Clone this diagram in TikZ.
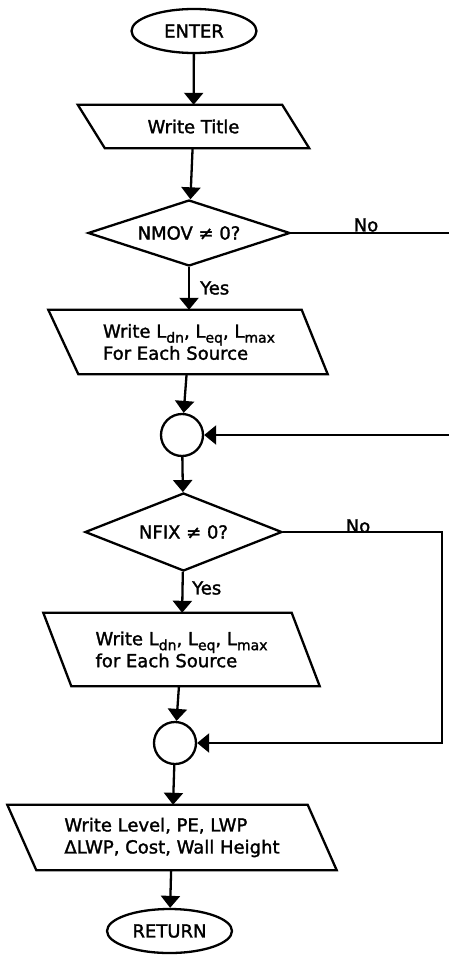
\documentclass[tikz,border=0pt]{standalone}
\usepackage{fontspec}
\setmainfont{DejaVu Sans}[BoldFont=DejaVu Sans, BoldFeatures={FakeBold=1.6}]
\usetikzlibrary{shapes.geometric,arrows.meta}
% level symbol with a lowered index, e.g. L_dn
\newcommand\lvl[1]{L\raisebox{-0.5ex}{\fontsize{14}{14}\selectfont #1}}
\begin{document}
\begin{tikzpicture}[x=1pt,y=-1pt,
  every node/.style={font=\fontsize{18}{22}\selectfont\bfseries},
  outline/.style={draw, line width=2.3pt},
  flow/.style={line width=2.3pt, -{Triangle[width=19pt,length=12pt]}},
  lbl/.style={inner sep=0pt},
  term/.style={outline, ellipse, minimum width=125pt, minimum height=44pt, inner sep=0pt},
  test/.style={outline, diamond, inner sep=0pt},
  joint/.style={outline, circle, minimum size=42pt, inner sep=0pt},
  iobox/.style={inner sep=0pt, align=left},
]
\useasboundingbox[fill=white] (0,0) rectangle (448,963);

% blocks of the flow
\node[term] (enter) at (194,31) {ENTER};
\node[iobox, minimum width=204pt, minimum height=43pt] (title) at (193.5,126.5) {Write Title};
\node[test, shape aspect=3.06, minimum width=202pt, minimum height=66pt] (nmov) at (189,233) {NMOV ≠ 0?};
\node[iobox, minimum width=251pt, minimum height=64pt] (src1) at (189,342)
  {Write \lvl{dn}, \lvl{eq}, \lvl{max}\\For Each Source};
\node[joint] (c1) at (182,435) {};
\node[test, shape aspect=2.53, minimum width=197pt, minimum height=78pt] (nfix) at (183.5,532) {NFIX ≠ 0?};
\node[iobox, minimum width=248pt, minimum height=73pt] (src2) at (181.5,649.5)
  {Write \lvl{dn}, \lvl{eq}, \lvl{max}\\for Each Source};
\node[joint] (c2) at (175,743) {};
\node[iobox, minimum width=300pt, minimum height=65pt] (out) at (172,837.5)
  {Write Level, PE, LWP\\ΔLWP, Cost, Wall Height};
\node[term] (ret) at (169.5,931) {RETURN};

% slanted input/output outlines
\draw[outline] ([xshift=-13.5pt]title.north west) -- ([xshift=-13.5pt]title.north east)
  -- ([xshift=13.5pt]title.south east) -- ([xshift=13.5pt]title.south west) -- cycle;
\draw[outline] ([xshift=-15pt]src1.north west) -- ([xshift=-13pt]src1.north east)
  -- ([xshift=13pt]src1.south east) -- ([xshift=15pt]src1.south west) -- cycle;
\draw[outline] ([xshift=-14pt]src2.north west) -- ([xshift=-14pt]src2.north east)
  -- ([xshift=14pt]src2.south east) -- ([xshift=14pt]src2.south west) -- cycle;
\draw[outline] ([xshift=-14.5pt]out.north west) -- ([xshift=-14.5pt]out.north east)
  -- ([xshift=14.5pt]out.south east) -- ([xshift=14.5pt]out.south west) -- cycle;

% branch labels
\node[lbl] (no1) at (366,225) {No};
\node[lbl, anchor=west] (yes1) at (200,288) {Yes};
\node[lbl] (no2) at (358,526) {No};
\node[lbl, anchor=west] (yes2) at (192,588) {Yes};

% bypass corners
\coordinate (r1) at (452,435);
\coordinate (r2) at (442,743);

% connectors
\draw[flow] (enter) -- (title);
\draw[flow] (title) -- (nmov);
\draw[flow] (nmov) -- (src1);
\draw[flow] (src1) -- (c1);
\draw[flow] (c1) -- (nfix);
\draw[flow] (nfix) -- (src2);
\draw[flow] (src2) -- (c2);
\draw[flow] (c2) -- (out);
\draw[flow] (out) -- (ret);
\draw[flow] (nmov.east) -| (r1) -- (c1.east);
\draw[flow] (nfix.east) -| (r2) -- (c2.east);
\end{tikzpicture}
\end{document}
